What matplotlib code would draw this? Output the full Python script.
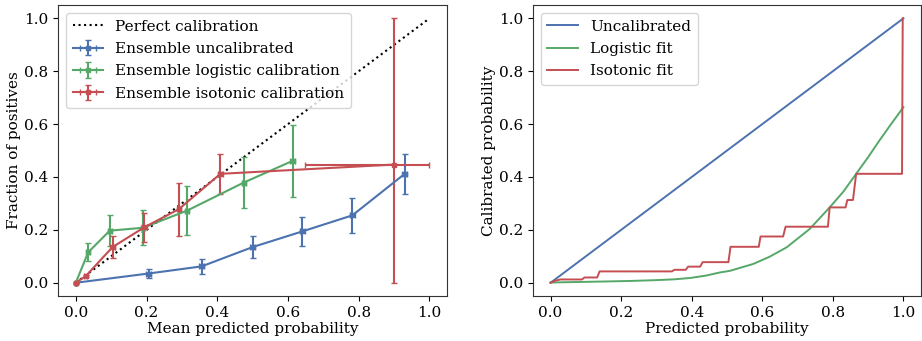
"""Calibration curves (left) and calibration maps (right) for an ensemble classifier."""

import matplotlib
matplotlib.use("Agg")
import matplotlib.pyplot as plt

plt.rcParams["font.family"] = ["DejaVu Serif"]
plt.rcParams["font.size"] = 11

BLUE, GREEN, RED = "#4C72B0", "#55A868", "#C44E52"

# --- left panel: reliability diagram ---
unc_x = [0.0, 0.206, 0.356, 0.500, 0.640, 0.782, 0.930]
unc_y = [0.0, 0.035, 0.062, 0.135, 0.194, 0.255, 0.412]
unc_yerr = [0.0, 0.018, 0.027, 0.041, 0.055, 0.066, 0.075]
unc_xerr = [0.0, 0.007, 0.007, 0.007, 0.007, 0.007, 0.007]

log_x = [0.0, 0.035, 0.096, 0.190, 0.315, 0.475, 0.613]
log_y = [0.0, 0.115, 0.197, 0.208, 0.273, 0.379, 0.461]
log_yerr = [0.0, 0.034, 0.058, 0.067, 0.094, 0.095, 0.137]
log_xerr = [0.0, 0.006, 0.006, 0.006, 0.006, 0.006, 0.006]

iso_x = [0.0, 0.028, 0.104, 0.194, 0.291, 0.409, 0.900]
iso_y = [0.0, 0.025, 0.135, 0.210, 0.278, 0.412, 0.447]
iso_yerr_lo = [0.0, 0.004, 0.041, 0.054, 0.100, 0.075, 0.447]
iso_yerr_hi = [0.0, 0.004, 0.041, 0.054, 0.100, 0.075, 0.553]
iso_xerr_lo = [0.0, 0.004, 0.006, 0.006, 0.006, 0.006, 0.251]
iso_xerr_hi = [0.0, 0.004, 0.006, 0.006, 0.006, 0.006, 0.098]

# --- right panel: calibration maps ---
diag = [0.0, 1.0]
logfit_x = [0.0, 0.08, 0.16, 0.23, 0.30, 0.35, 0.395, 0.44, 0.48, 0.508, 0.574,
            0.62, 0.669, 0.734, 0.791, 0.83, 0.866, 0.90, 0.932, 0.965, 1.0]
logfit_y = [0.001, 0.003, 0.005, 0.007, 0.010, 0.013, 0.018, 0.027, 0.039, 0.045,
            0.071, 0.098, 0.134, 0.203, 0.285, 0.345, 0.412, 0.475, 0.538, 0.600, 0.664]
isofit_x = [0.0, 0.014, 0.028, 0.089, 0.096, 0.132, 0.139, 0.344, 0.351, 0.383,
            0.390, 0.424, 0.431, 0.504, 0.510, 0.590, 0.595, 0.659, 0.666, 0.786,
            0.791, 0.836, 0.841, 0.857, 0.866, 0.996, 0.998]
isofit_y = [0.0, 0.008, 0.0125, 0.0125, 0.020, 0.020, 0.043, 0.043, 0.049, 0.049,
            0.061, 0.061, 0.078, 0.078, 0.136, 0.136, 0.175, 0.175, 0.212, 0.212,
            0.285, 0.285, 0.313, 0.313, 0.412, 0.412, 1.0]

fig = plt.figure(figsize=(9.22, 3.41), dpi=100)
ax1 = fig.add_axes([0.063, 0.132, 0.422, 0.853])
ax2 = fig.add_axes([0.578, 0.132, 0.421, 0.853])

eb = dict(marker="s", markersize=3, capsize=2.5, lw=1.5, elinewidth=1.5)
ax1.plot(diag, diag, "k:", label="Perfect calibration")
ax1.errorbar(unc_x, unc_y, yerr=unc_yerr, xerr=unc_xerr, color=BLUE,
             label="Ensemble uncalibrated", **eb)
ax1.errorbar(log_x, log_y, yerr=log_yerr, xerr=log_xerr, color=GREEN,
             label="Ensemble logistic calibration", **eb)
ax1.errorbar(iso_x, iso_y, yerr=[iso_yerr_lo, iso_yerr_hi],
             xerr=[iso_xerr_lo, iso_xerr_hi], color=RED,
             label="Ensemble isotonic calibration", **eb)
ax1.set_xlabel("Mean predicted probability", labelpad=2)
ax1.set_ylabel("Fraction of positives", labelpad=2)
ax1.legend(loc="upper left", borderaxespad=0.5, handlelength=2.0,
           labelspacing=0.55, borderpad=0.45)

ax2.plot(diag, diag, color=BLUE, lw=1.4, label="Uncalibrated")
ax2.plot(logfit_x, logfit_y, color=GREEN, lw=1.4, label="Logistic fit")
ax2.plot(isofit_x, isofit_y, color=RED, lw=1.4, label="Isotonic fit")
ax2.set_xlabel("Predicted probability", labelpad=2)
ax2.set_ylabel("Calibrated probability", labelpad=2)
ax2.legend(loc="upper left", borderaxespad=0.5, handlelength=2.0,
           labelspacing=0.55, borderpad=0.45)

ticks = [0.0, 0.2, 0.4, 0.6, 0.8, 1.0]
for ax in (ax1, ax2):
    ax.set_xlim(-0.05, 1.05)
    ax.set_ylim(-0.05, 1.05)
    ax.set_xticks(ticks)
    ax.set_yticks(ticks)
    for s in ax.spines.values():
        s.set_color("#333333")

fig.savefig("out.png", dpi=100)
